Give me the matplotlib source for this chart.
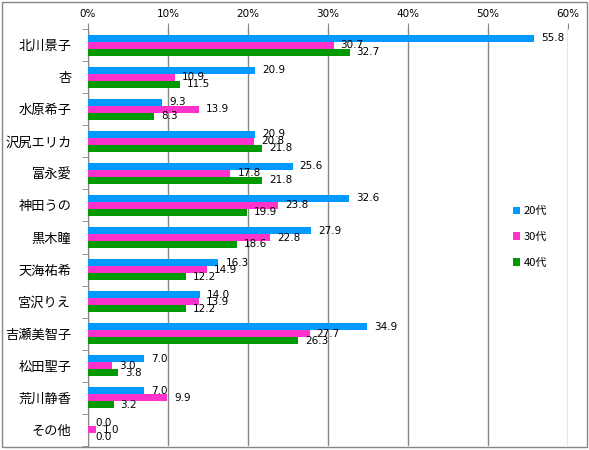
import matplotlib
matplotlib.use("Agg")
import matplotlib.pyplot as plt
import numpy as np
from matplotlib.patches import Rectangle

plt.rcParams['font.family'] = ['Noto Sans CJK JP', 'DejaVu Sans']

categories = ["北川景子", "杏", "水原希子", "沢尻エリカ", "富永愛", "神田うの", "黒木瞳",
              "天海祐希", "宮沢りえ", "吉瀬美智子", "松田聖子", "荒川静香", "その他"]
series_names = ["20代", "30代", "40代"]
v20 = [55.8, 20.9, 9.3, 20.9, 25.6, 32.6, 27.9, 16.3, 14.0, 34.9, 7.0, 7.0, 0.0]
v30 = [30.7, 10.9, 13.9, 20.8, 17.8, 23.8, 22.8, 14.9, 13.9, 27.7, 3.0, 9.9, 1.0]
v40 = [32.7, 11.5, 8.3, 21.8, 21.8, 19.9, 18.6, 12.2, 12.2, 26.3, 3.8, 3.2, 0.0]
colors = ["#0099FF", "#FF33CC", "#009900"]
xticks = [0, 10, 20, 30, 40, 50, 60]
xticklabels = ["0%", "10%", "20%", "30%", "40%", "50%", "60%"]

W, H = 589, 450
fig = plt.figure(figsize=(W / 100, H / 100), dpi=100)
ax = fig.add_axes([88 / W, 1 - 446 / H, (568 - 88) / W, (446 - 29) / H])

n = len(categories)
y = np.arange(n)
bh = 0.218
series = [v20, v30, v40]
for i, (vals, col, name) in enumerate(zip(series, colors, series_names)):
    pos = y + (i - 1) * bh
    ax.barh(pos, vals, height=bh, color=col, label=name, zorder=3)
    for p, v in zip(pos, vals):
        ax.annotate(f"{v:.1f}", xy=(v, p), xytext=(5, 0), textcoords="offset points",
                    va="center", ha="left", fontsize=7.5, family="DejaVu Sans", zorder=4)

ax.set_xlim(0, 60)
ax.set_ylim(n - 0.5, -0.5)
ax.xaxis.tick_top()
ax.set_xticks(xticks)
ax.set_xticklabels(xticklabels, fontsize=7.5, family="DejaVu Sans")
ax.tick_params(axis='x', length=4, color="#868686", pad=3)
ax.grid(axis='x', color="#868686", linewidth=1, zorder=0)

ax.set_yticks(y)
ax.set_yticklabels(categories, fontsize=9.5)
ax.tick_params(axis='y', length=0, pad=12)
ax.set_yticks(np.arange(n + 1) - 0.5, minor=True)
ax.tick_params(axis='y', which='minor', length=4, color="#868686")

for s in ["right", "bottom", "top"]:
    ax.spines[s].set_visible(False)
ax.spines["left"].set_color("#868686")

leg = fig.legend(loc="center", bbox_to_anchor=(530 / W, 1 - 237 / H), frameon=False,
                 fontsize=8, handlelength=0.7, handleheight=0.7, handletextpad=0.3,
                 labelspacing=1.4)

fig.patches.append(Rectangle((2 / W, 1 - 447 / H), 585 / W, 445 / H, transform=fig.transFigure,
                             fill=False, edgecolor="#868686", linewidth=1))

fig.savefig("out.png", dpi=100)
